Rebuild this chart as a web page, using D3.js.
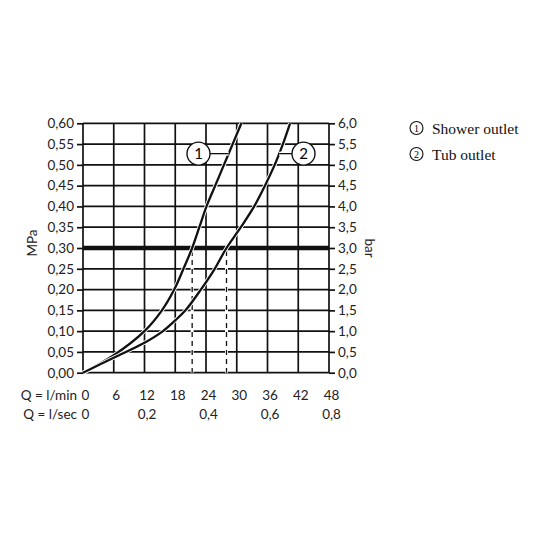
<!DOCTYPE html>
<html>
<head>
<meta charset="utf-8">
<script src="https://cdn.jsdelivr.net/npm/d3@7"></script>
<style>
  body { margin: 0; background: #fff; }
  svg { display: block; }
  .ax text { font-family: Lato, "DejaVu Sans", sans-serif; font-size: 13.5px; fill: #222; }
  .leg text { font-family: "Liberation Serif", serif; }
</style>
</head>
<body>
<div id="chart"></div>
<script>
// flow in l/min and pressure in MPa
const showerQ = [0, 6, 12, 15.4, 17.8, 19.6, 21.3, 22.7, 24.1, 25.8, 27.5, 29.2, 30.9];
const showerP = [0, 0.042, 0.10, 0.15, 0.20, 0.25, 0.30, 0.35, 0.40, 0.45, 0.50, 0.55, 0.60];
const tubQ = [0, 6, 12, 15.6, 18, 20.0, 23.0, 25.7, 28.0, 30.8, 33.4, 35.5, 37.4, 39.0, 40.4];
const tubP = [0, 0.036, 0.072, 0.10, 0.126, 0.15, 0.20, 0.25, 0.30, 0.35, 0.40, 0.45, 0.50, 0.55, 0.60];

const qTicks = [0, 6, 12, 18, 24, 30, 36, 42, 48];
const secTicks = [0, 0.2, 0.4, 0.6, 0.8];
const mpaTicks = [0, 0.05, 0.10, 0.15, 0.20, 0.25, 0.30, 0.35, 0.40, 0.45, 0.50, 0.55, 0.60];
const legendItems = ['Shower outlet', 'Tub outlet'];
const operatingP = 0.30;

const w = 536;
const h = 536;

const svg = d3.select('#chart')
  .append('svg')
  .attr('width', w)
  .attr('height', h)

const x = d3.scaleLinear().domain([0, 48]).range([83, 329]);
const xSec = d3.scaleLinear().domain([0, 0.8]).range([83, 329]);
const y = d3.scaleLinear().domain([0, 0.6]).range([372.7, 123.3]);
const yBar = d3.scaleLinear().domain([0, 6]).range([372.7, 123.3]);

const comma = f => v => d3.format(f)(v).replace('.', ',');

// grid
const grid = svg.append('g').attr('stroke', '#111').attr('stroke-width', 1.7);
grid.selectAll('line.v')
  .data(qTicks)
  .enter()
  .append('line')
  .attr('x1', d => x(d)).attr('x2', d => x(d))
  .attr('y1', y(0)).attr('y2', y(0.6))
grid.selectAll('line.h')
  .data(mpaTicks)
  .enter()
  .append('line')
  .attr('x1', x(0)).attr('x2', x(48))
  .attr('y1', d => y(d)).attr('y2', d => y(d))

// axes
svg.append('g').attr('class', 'ax')
  .attr('transform', 'translate(' + x(0) + ',0)')
  .call(d3.axisLeft(y).tickValues(mpaTicks).tickFormat(comma('.2f')).tickSize(6).tickPadding(3))
svg.append('g').attr('class', 'ax')
  .attr('transform', 'translate(' + x(48) + ',0)')
  .call(d3.axisRight(yBar).tickValues(d3.range(0, 6.01, 0.5)).tickFormat(comma('.1f')).tickSize(6).tickPadding(3))
svg.append('g').attr('class', 'ax')
  .attr('transform', 'translate(2,390)')
  .call(d3.axisBottom(x).tickValues(qTicks).tickFormat(d3.format('d')).tickSize(0).tickPadding(0))
svg.append('g').attr('class', 'ax')
  .attr('transform', 'translate(2,409)')
  .call(d3.axisBottom(xSec).tickValues(secTicks).tickFormat(d => d === 0 ? '0' : comma('.1f')(d)).tickSize(0).tickPadding(0))

svg.selectAll('.ax .domain').remove();
svg.selectAll('.ax line').attr('stroke', '#111').attr('stroke-width', 1.7);
svg.selectAll('.ax text').attr('font-family', null).attr('font-size', null);

const lab = svg.append('g').attr('class', 'ax');
lab.append('text').attr('x', 77).attr('y', 399.5).attr('text-anchor', 'end').text('Q = l/min');
lab.append('text').attr('x', 77).attr('y', 418.5).attr('text-anchor', 'end').text('Q = l/sec');
lab.append('text').attr('transform', 'translate(37,243) rotate(-90)').attr('text-anchor', 'middle').text('MPa');
lab.append('text').attr('transform', 'translate(365,248) rotate(90)').attr('text-anchor', 'middle').text('bar');

// operating pressure line
svg.append('line')
  .attr('x1', x(0)).attr('x2', x(48))
  .attr('y1', y(operatingP)).attr('y2', y(operatingP))
  .attr('stroke', '#111').attr('stroke-width', 4.5)

const series = [
  { q: showerQ, p: showerP, label: '1', labelP: 0.527, cx: 198.5 },
  { q: tubQ, p: tubP, label: '2', labelP: 0.527, cx: 303.5 }
];

const line = d3.line()
  .x(d => x(d[0]))
  .y(d => y(d[1]))
  .curve(d3.curveCatmullRom.alpha(0.5))

series.forEach(s => {
  const pts = d3.zip(s.q, s.p);
  const qAt = d3.scaleLinear().domain(s.p).range(s.q);
  // dashed drop line at operating point
  svg.append('line')
    .attr('x1', x(qAt(operatingP))).attr('x2', x(qAt(operatingP)))
    .attr('y1', y(operatingP) + 3).attr('y2', y(0))
    .attr('stroke', '#fff').attr('stroke-width', 3)
  svg.append('line')
    .attr('x1', x(qAt(operatingP))).attr('x2', x(qAt(operatingP)))
    .attr('y1', y(operatingP) + 3).attr('y2', y(0))
    .attr('stroke', '#111').attr('stroke-width', 1.3)
    .attr('stroke-dasharray', '5,4')
  // white halo so the curve reads over the grid
  svg.append('path')
    .datum(pts)
    .attr('d', line)
    .attr('fill', 'none')
    .attr('stroke', '#fff')
    .attr('stroke-width', 4)
  svg.append('path')
    .datum(pts)
    .attr('d', line)
    .attr('fill', 'none')
    .attr('stroke', '#111')
    .attr('stroke-width', 2.3)
  // circled label with leader
  const ly = y(s.labelP);
  const cx = x(qAt(s.labelP));
  const r = 11.5;
  const side = s.cx < cx ? 1 : -1;
  svg.append('line')
    .attr('x1', s.cx + side * r).attr('x2', cx)
    .attr('y1', ly).attr('y2', ly)
    .attr('stroke', '#fff').attr('stroke-width', 4)
  svg.append('line')
    .attr('x1', s.cx + side * r).attr('x2', cx)
    .attr('y1', ly).attr('y2', ly)
    .attr('stroke', '#111').attr('stroke-width', 1.3)
  svg.append('circle')
    .attr('cx', s.cx).attr('cy', ly).attr('r', r)
    .attr('fill', '#fff').attr('stroke', '#111').attr('stroke-width', 1.4)
  svg.append('text')
    .attr('class', 'ax')
    .attr('x', s.cx).attr('y', ly + 5.5)
    .attr('text-anchor', 'middle')
    .attr('font-family', 'Lato, sans-serif').attr('font-size', 15)
    .text(s.label)
})

// legend
const leg = svg.append('g').attr('class', 'leg')
  .selectAll('g')
  .data(legendItems)
  .enter()
  .append('g')
  .attr('transform', (d, i) => 'translate(0,' + (128 + i * 26) + ')')
leg.append('circle')
  .attr('cx', 416.5).attr('cy', 0).attr('r', 6.5)
  .attr('fill', 'none').attr('stroke', '#111').attr('stroke-width', 1.1)
leg.append('text')
  .attr('x', 416.5).attr('y', 3.5)
  .attr('text-anchor', 'middle')
  .attr('font-size', 10)
  .attr('font-family', 'Lato, sans-serif')
  .text((d, i) => i + 1)
leg.append('text')
  .attr('x', 432).attr('y', 5.5)
  .attr('font-size', 15.5)
  .attr('fill', '#111')
  .text(d => d)
</script>
</body>
</html>
